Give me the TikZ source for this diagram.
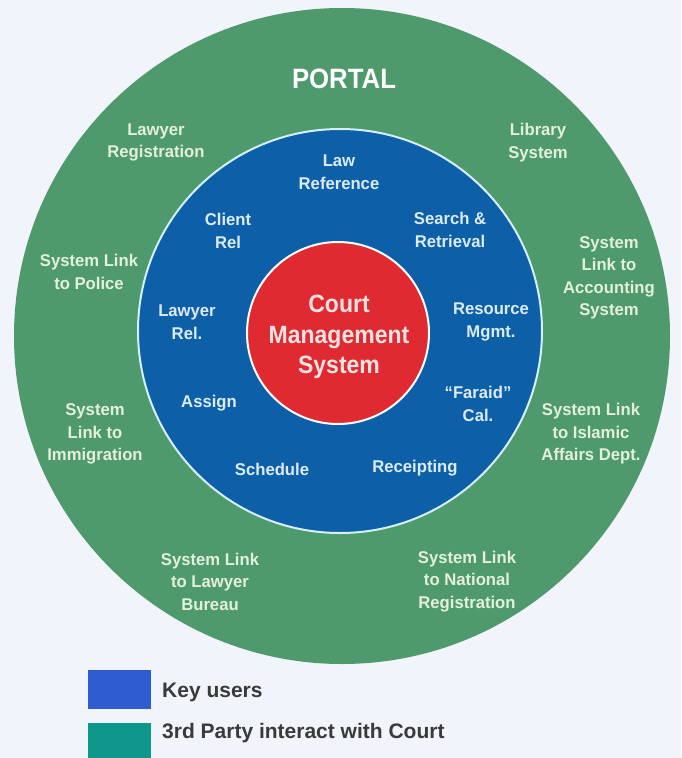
\documentclass[tikz,border=0pt]{standalone}
\usepackage{fontspec}
\setmainfont{Liberation Sans}
\newfontfamily\cfont{Liberation Sans}[FakeStretch=0.92]
\newfontfamily\lfont{Liberation Sans}[FakeStretch=0.98]
\definecolor{bgc}{HTML}{F1F4FA}
\definecolor{ringg}{HTML}{4F9A6C}
\definecolor{ringb}{HTML}{0D60A8}
\definecolor{corer}{HTML}{DE2A30}
\definecolor{edgeb}{HTML}{D5EEF8}
\definecolor{txtg}{HTML}{E4EFDD}
\definecolor{txtb}{HTML}{DCEBF8}
\definecolor{txtr}{HTML}{FBE3E3}
\definecolor{legb}{HTML}{2F5DD1}
\definecolor{legt}{HTML}{0F978B}
\definecolor{legtxt}{HTML}{3A3A3A}
\tikzset{
  outerlbl/.style={font=\lfont\bfseries\fontsize{17}{22.5}\selectfont, text=txtg, align=center, inner sep=0pt},
  innerlbl/.style={font=\lfont\bfseries\fontsize{17}{23}\selectfont, text=txtb, align=center, inner sep=0pt},
  corelbl/.style={font=\cfont\bfseries\fontsize{25}{30.5}\selectfont, text=txtr, align=center, inner sep=0pt},
  legtext/.style={font=\bfseries\fontsize{21}{25}\selectfont, text=legtxt, anchor=base west, inner sep=0pt},
  portal/.style={font=\cfont\bfseries\fontsize{28}{30}\selectfont, inner sep=0pt}
}
\begin{document}
\begin{tikzpicture}[x=1pt,y=-1pt]
\useasboundingbox (0,0) rectangle (681,758);
\fill[bgc] (0,0) rectangle (681,758);
% rings
\fill[ringg] (342,336) circle (328pt);
\filldraw[fill=ringb, draw=edgeb, line width=2pt] (340,331) circle (202pt);
\filldraw[fill=corer, draw=white, line width=2pt] (338,333) circle (91pt);
% portal title
\node[portal, text=white] (portal) at (344,79) {PORTAL};
% outer ring labels
\node[outerlbl] (lreg) at (156,142.5) {Lawyer\\Registration};
\node[outerlbl] (lib) at (538,142.5) {Library\\System};
\node[outerlbl] (police) at (89,272) {System Link\\to Police};
\node[outerlbl] (acct) at (609,278) {System\\Link to\\Accounting\\System};
\node[outerlbl] (immig) at (95,434) {System\\Link to\\Immigration};
\node[outerlbl] (islamic) at (591,434) {System Link\\to Islamic\\Affairs Dept.};
\node[outerlbl] (bureau) at (210,581.5) {System Link\\to Lawyer\\Bureau};
\node[outerlbl] (natreg) at (467,581.5) {System Link\\to National\\Registration};
% inner ring labels
\node[innerlbl] (lawref) at (339,172) {Law\\Reference};
\node[innerlbl] (client) at (228,231) {Client\\Rel};
\node[innerlbl] (search) at (450,230) {Search \&\\Retrieval};
\node[innerlbl] (lawrel) at (187,322) {Lawyer\\Rel.};
\node[innerlbl] (resource) at (491,322) {Resource\\Mgmt.};
\node[innerlbl] (assign) at (209,403) {Assign};
\node[innerlbl] (faraid) at (478,404) {“Faraid”\\Cal.};
\node[innerlbl] (schedule) at (272,469) {Schedule};
\node[innerlbl] (receipt) at (415,468) {Receipting};
% core
\node[corelbl] (cms) at (339,337) {Court\\Management\\System};
% legend
\fill[legb] (88,670) rectangle (151,709);
\fill[legt] (88,723) rectangle (151,758);
\node[legtext] (keyusers) at (162,697) {Key users};
\node[legtext] (thirdparty) at (162,738) {3rd Party interact with Court};
\end{tikzpicture}
\end{document}
